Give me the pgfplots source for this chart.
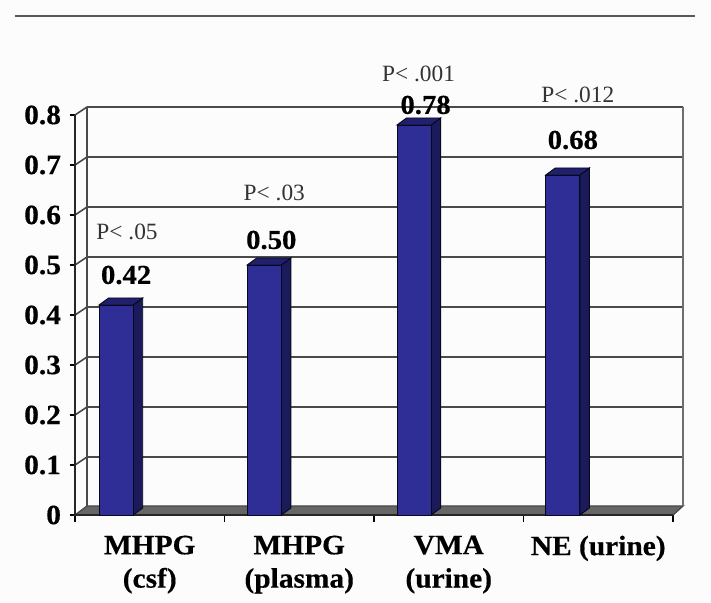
\documentclass[border=0pt]{standalone}
\usepackage{pgfplots}
\usepackage{fontspec}
\setmainfont{Liberation Serif}
\newfontface\wb[FakeStretch=1.05,FakeBold=0.4]{Liberation Serif Bold}
\pgfplotsset{compat=1.18}
\definecolor{barfront}{HTML}{2E2E96}
\definecolor{barside}{HTML}{1B1B5C}
\definecolor{bartop}{HTML}{20206E}
\definecolor{gridc}{HTML}{4A4A4A}
\begin{document}
\begin{tikzpicture}
\fill[white!99!black] (0,0) rectangle (533.25pt,452.25pt);
\draw[gray!70!black,line width=1.1pt] (11.25pt,440.25pt) -- (521.25pt,440.25pt);
\begin{axis}[
  at={(56.25pt,66pt)},anchor=south west,
  scale only axis,width=448.5pt,height=300pt,
  xmin=-0.5,xmax=3.5,ymin=0,ymax=0.8,
  clip=false,
  axis line style={draw=none},
  axis x line*=bottom,axis y line*=left,
  xtick={0,1,2,3},
  xticklabels={{MHPG\\(csf)},{MHPG\\(plasma)},{VMA\\(urine)},{NE (urine)}},
  minor xtick={-0.5,0.5,1.5,2.5,3.5},
  ytick={0,0.1,0.2,0.3,0.4,0.5,0.6,0.7,0.8},
  yticklabels={0,0.1,0.2,0.3,0.4,0.5,0.6,0.7,0.8},
  major x tick style={draw=none},
  minor x tick style={draw=black,line width=0.9pt},
  minor tick length=5pt,
  major tick length=4pt,
  tick align=outside,
  ytick style={draw=black,line width=1pt},
  xticklabel style={font=\fontsize{21}{25}\wb,align=center,anchor=north,yshift=-8pt},
  yticklabel style={font=\fontsize{21}{22}\wb,xshift=-3pt},
  unbounded coords=jump,
]
% floor
\addplot[fill=gray!80!black,draw=gridc,line width=1pt,forget plot] coordinates {(-0.5,0) (3.5,0) (3.567,0.018) (-0.42,0.018)} -- cycle;
% back wall grid and depth lines
\addplot[gridc,line width=1.2pt,no marks,forget plot] coordinates {
(-0.42,0.116)(3.567,0.116)(nan,nan)
(-0.42,0.216)(3.567,0.216)(nan,nan)
(-0.42,0.316)(3.567,0.316)(nan,nan)
(-0.42,0.416)(3.567,0.416)(nan,nan)
(-0.42,0.516)(3.567,0.516)(nan,nan)
(-0.42,0.616)(3.567,0.616)(nan,nan)
(-0.42,0.716)(3.567,0.716)(nan,nan)
(-0.42,0.816)(3.567,0.816)(nan,nan)
(-0.5,0.1)(-0.42,0.116)(nan,nan)
(-0.5,0.2)(-0.42,0.216)(nan,nan)
(-0.5,0.3)(-0.42,0.316)(nan,nan)
(-0.5,0.4)(-0.42,0.416)(nan,nan)
(-0.5,0.5)(-0.42,0.516)(nan,nan)
(-0.5,0.6)(-0.42,0.616)(nan,nan)
(-0.5,0.7)(-0.42,0.716)(nan,nan)
(-0.5,0.8)(-0.42,0.816)};
\addplot[gridc,line width=1.2pt,no marks,forget plot] coordinates {(-0.42,0.018)(-0.42,0.816)};
\addplot[gridc!80,line width=1.1pt,no marks,forget plot] coordinates {(3.567,0.018)(3.567,0.816)};
\addplot[black!85,line width=1.2pt,no marks,forget plot] coordinates {(-0.5,0)(-0.5,0.8)};
\addplot[black!85,line width=1.2pt,no marks,forget plot] coordinates {(-0.5,0)(3.5,0)};
% bar sides
\addplot[fill=barside,draw=black!70!barside,line width=0.7pt,forget plot] coordinates {(-0.111,0)(-0.047,0.014)(-0.047,0.434)(-0.111,0.42)} -- cycle;
\addplot[fill=barside,draw=black!70!barside,line width=0.7pt,forget plot] coordinates {(0.880,0)(0.944,0.014)(0.944,0.514)(0.880,0.5)} -- cycle;
\addplot[fill=barside,draw=black!70!barside,line width=0.7pt,forget plot] coordinates {(1.882,0)(1.946,0.014)(1.946,0.794)(1.882,0.78)} -- cycle;
\addplot[fill=barside,draw=black!70!barside,line width=0.7pt,forget plot] coordinates {(2.877,0)(2.941,0.014)(2.941,0.694)(2.877,0.68)} -- cycle;
% bar tops
\addplot[fill=bartop,draw=black!70!barside,line width=0.7pt,forget plot] coordinates {(-0.339,0.42)(-0.111,0.42)(-0.047,0.434)(-0.275,0.434)} -- cycle;
\addplot[fill=bartop,draw=black!70!barside,line width=0.7pt,forget plot] coordinates {(0.652,0.5)(0.880,0.5)(0.944,0.514)(0.716,0.514)} -- cycle;
\addplot[fill=bartop,draw=black!70!barside,line width=0.7pt,forget plot] coordinates {(1.654,0.78)(1.882,0.78)(1.946,0.794)(1.718,0.794)} -- cycle;
\addplot[fill=bartop,draw=black!70!barside,line width=0.7pt,forget plot] coordinates {(2.649,0.68)(2.877,0.68)(2.941,0.694)(2.713,0.694)} -- cycle;
% bar fronts
\addplot[ybar,bar width=25.5pt,bar shift=0pt,fill=barfront,draw=black!70!barside,line width=0.7pt,forget plot] coordinates {(-0.225,0.42)(0.766,0.50)(1.768,0.78)(2.763,0.68)};
% labels
\node[font=\fontsize{20.5}{21}\wb] at (axis cs:-0.158,0.48) {0.42};
\node[font=\fontsize{20.5}{21}\wb] at (axis cs:0.813,0.55) {0.50};
\node[font=\fontsize{20.5}{21}\wb] at (axis cs:1.845,0.82) {0.78};
\node[font=\fontsize{20.5}{21}\wb] at (axis cs:2.83,0.75) {0.68};
\node[text=black!80,font=\fontsize{17.5}{18}\selectfont] at (axis cs:-0.152,0.566) {P< .05};
\node[text=black!80,font=\fontsize{17.5}{18}\selectfont] at (axis cs:0.833,0.644) {P< .03};
\node[text=black!80,font=\fontsize{17.5}{18}\selectfont] at (axis cs:1.798,0.882) {P< .001};
\node[text=black!80,font=\fontsize{17.5}{18}\selectfont] at (axis cs:2.863,0.84) {P< .012};
\end{axis}
\end{tikzpicture}
\end{document}
